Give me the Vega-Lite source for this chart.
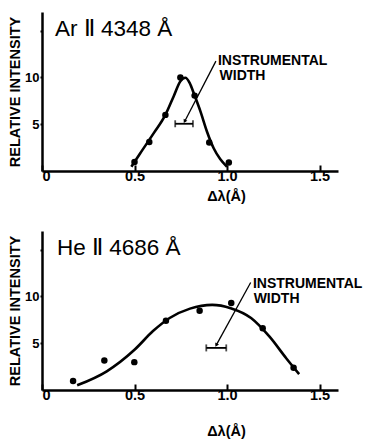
{
  "$schema": "https://vega.github.io/schema/vega-lite/v6.json",
  "background": "white",
  "padding": {"left": 7, "top": 12, "right": 5, "bottom": 5},
  "spacing": 28,
  "config": {
    "view": {"stroke": null},
    "font": "Liberation Sans",
    "axis": {
      "grid": false,
      "domainColor": "black",
      "domainWidth": 2.5,
      "tickColor": "black",
      "tickWidth": 2,
      "labelColor": "black",
      "labelFont": "Liberation Sans",
      "labelFontSize": 14.5,
      "labelFontWeight": "bold",
      "titleColor": "black",
      "titleFont": "Liberation Sans",
      "titleFontSize": 14.5,
      "titleFontWeight": "bold"
    }
  },
  "datasets": {
    "arPts": [
      {"x": 0.50, "y": 0.97}, {"x": 0.58, "y": 3.1}, {"x": 0.667, "y": 6.0},
      {"x": 0.748, "y": 10.0}, {"x": 0.825, "y": 8.06}, {"x": 0.904, "y": 3.05}, {"x": 1.01, "y": 0.9}
    ],
    "arCurve": [
      {"x": 0.483, "y": 0.46}, {"x": 0.531, "y": 1.9}, {"x": 0.604, "y": 4.05}, {"x": 0.667, "y": 6.0},
      {"x": 0.712, "y": 8.0}, {"x": 0.748, "y": 9.6}, {"x": 0.775, "y": 9.97}, {"x": 0.798, "y": 9.43},
      {"x": 0.825, "y": 8.06}, {"x": 0.856, "y": 6.4}, {"x": 0.892, "y": 4.2}, {"x": 0.928, "y": 2.43},
      {"x": 0.964, "y": 1.25}, {"x": 1.0, "y": 0.46}
    ],
    "arInst": [{"x": 0.72, "x2": 0.816, "y": 5.05}],
    "arArrow": [{"x": 0.94, "y": 11.75, "x2": 0.771, "y2": 5.3}],
    "arText": [
      {"x": 0.951, "y": 11.3, "t": "INSTRUMENTAL"},
      {"x": 0.96, "y": 9.7, "t": "WIDTH"}
    ],
    "arTitle": [{"x": 0.07, "y": 14.4, "t": "Ar Ⅱ 4348 Å"}],
    "hePts": [
      {"x": 0.168, "y": 0.96}, {"x": 0.337, "y": 3.16}, {"x": 0.499, "y": 2.98}, {"x": 0.67, "y": 7.4},
      {"x": 0.852, "y": 8.47}, {"x": 1.023, "y": 9.3}, {"x": 1.193, "y": 6.6}, {"x": 1.36, "y": 2.37}
    ],
    "heCurve": [
      {"x": 0.19, "y": 0.5}, {"x": 0.35, "y": 2.0}, {"x": 0.50, "y": 4.3}, {"x": 0.60, "y": 6.3},
      {"x": 0.69, "y": 7.7}, {"x": 0.80, "y": 8.7}, {"x": 0.92, "y": 9.1}, {"x": 1.02, "y": 8.75},
      {"x": 1.13, "y": 7.7}, {"x": 1.23, "y": 5.7}, {"x": 1.32, "y": 3.4}, {"x": 1.39, "y": 1.7}
    ],
    "heInst": [{"x": 0.888, "x2": 0.996, "y": 4.5}],
    "heArrow": [{"x": 1.128, "y": 11.5, "x2": 0.942, "y2": 4.8}],
    "heText": [
      {"x": 1.14, "y": 10.9, "t": "INSTRUMENTAL"},
      {"x": 1.144, "y": 9.3, "t": "WIDTH"}
    ],
    "heTitle": [{"x": 0.081, "y": 14.4, "t": "He Ⅱ 4686 Å"}]
  },
  "vconcat": [
    {
      "width": 296,
      "height": 159,
      "encoding": {
        "x": {"field": "x", "type": "quantitative", "scale": {"domain": [0, 1.6], "nice": false, "zero": false},
          "axis": {"values": [0, 0.5, 1.0, 1.5], "labelExpr": "datum.value == 0 ? '0' : format(datum.value, '.1f')", "tickSize": -6, "labelPadding": 4, "title": "Δλ(Å)", "titleX": 184, "titleY": 25, "titleBaseline": "middle"}},
        "y": {"field": "y", "type": "quantitative", "scale": {"domain": [0, 17], "nice": false},
          "axis": {"values": [5, 10, 15], "labelExpr": "datum.value == 15 ? '' : datum.label", "labelFontSize": 13, "tickSize": 2, "labelPadding": 1, "title": "RELATIVE INTENSITY", "titleX": -27, "titleBaseline": "middle"}}
      },
      "layer": [
        {"data": {"name": "arCurve"}, "mark": {"type": "line", "color": "black", "strokeWidth": 2.6, "interpolate": "monotone"}},
        {"data": {"name": "arPts"}, "mark": {"type": "point", "filled": true, "color": "black", "size": 42, "opacity": 1}},
        {"data": {"name": "arInst"}, "mark": {"type": "rule", "color": "black", "strokeWidth": 1.8}, "encoding": {"x2": {"field": "x2"}}},
        {"data": {"name": "arInst"}, "mark": {"type": "tick", "orient": "vertical", "color": "black", "size": 7, "thickness": 1.8}},
        {"data": {"name": "arInst"}, "mark": {"type": "tick", "orient": "vertical", "color": "black", "size": 7, "thickness": 1.8}, "encoding": {"x": {"field": "x2", "type": "quantitative"}}},
        {"data": {"name": "arArrow"}, "mark": {"type": "rule", "color": "black", "strokeWidth": 1.3}, "encoding": {"x2": {"field": "x2"}, "y2": {"field": "y2"}}},
        {"data": {"name": "arArrow"}, "mark": {"type": "point", "shape": "triangle-up", "filled": true, "color": "black", "size": 18, "opacity": 1, "angle": 208}, "encoding": {"x": {"field": "x2", "type": "quantitative"}, "y": {"field": "y2", "type": "quantitative"}}},
        {"data": {"name": "arText"}, "mark": {"type": "text", "align": "left", "baseline": "alphabetic", "fontSize": 14, "fontWeight": "bold", "color": "black"}, "encoding": {"text": {"field": "t"}}},
        {"data": {"name": "arTitle"}, "mark": {"type": "text", "align": "left", "baseline": "alphabetic", "fontSize": 22.5, "color": "black"}, "encoding": {"text": {"field": "t"}}}
      ]
    },
    {
      "width": 296,
      "height": 159,
      "encoding": {
        "x": {"field": "x", "type": "quantitative", "scale": {"domain": [0, 1.6], "nice": false, "zero": false},
          "axis": {"values": [0, 0.5, 1.0, 1.5], "labelExpr": "datum.value == 0 ? '0' : format(datum.value, '.1f')", "tickSize": -6, "labelPadding": 4, "title": "Δλ(Å)", "titleX": 184, "titleY": 41, "titleBaseline": "middle"}},
        "y": {"field": "y", "type": "quantitative", "scale": {"domain": [0, 17], "nice": false},
          "axis": {"values": [5, 10, 15], "labelExpr": "datum.value == 15 ? '' : datum.label", "labelFontSize": 13, "tickSize": 2, "labelPadding": 1, "title": "RELATIVE INTENSITY", "titleX": -27, "titleBaseline": "middle"}}
      },
      "layer": [
        {"data": {"name": "heCurve"}, "mark": {"type": "line", "color": "black", "strokeWidth": 2.6, "interpolate": "monotone"}},
        {"data": {"name": "hePts"}, "mark": {"type": "point", "filled": true, "color": "black", "size": 42, "opacity": 1}},
        {"data": {"name": "heInst"}, "mark": {"type": "rule", "color": "black", "strokeWidth": 1.8}, "encoding": {"x2": {"field": "x2"}}},
        {"data": {"name": "heInst"}, "mark": {"type": "tick", "orient": "vertical", "color": "black", "size": 7, "thickness": 1.8}},
        {"data": {"name": "heInst"}, "mark": {"type": "tick", "orient": "vertical", "color": "black", "size": 7, "thickness": 1.8}, "encoding": {"x": {"field": "x2", "type": "quantitative"}}},
        {"data": {"name": "heArrow"}, "mark": {"type": "rule", "color": "black", "strokeWidth": 1.3}, "encoding": {"x2": {"field": "x2"}, "y2": {"field": "y2"}}},
        {"data": {"name": "heArrow"}, "mark": {"type": "point", "shape": "triangle-up", "filled": true, "color": "black", "size": 18, "opacity": 1, "angle": 208}, "encoding": {"x": {"field": "x2", "type": "quantitative"}, "y": {"field": "y2", "type": "quantitative"}}},
        {"data": {"name": "heText"}, "mark": {"type": "text", "align": "left", "baseline": "alphabetic", "fontSize": 14, "fontWeight": "bold", "color": "black"}, "encoding": {"text": {"field": "t"}}},
        {"data": {"name": "heTitle"}, "mark": {"type": "text", "align": "left", "baseline": "alphabetic", "fontSize": 22.5, "color": "black"}, "encoding": {"text": {"field": "t"}}}
      ]
    }
  ]
}
